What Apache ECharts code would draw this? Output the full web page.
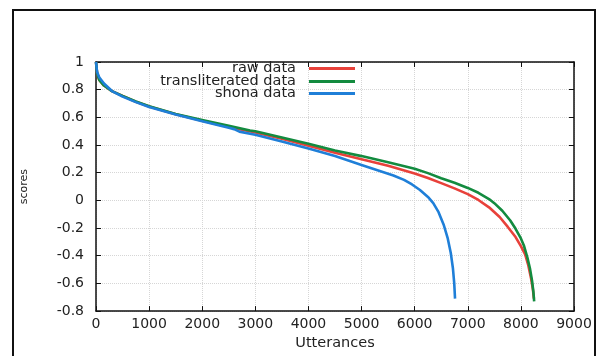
<!DOCTYPE html>
<html>
<head>
<meta charset="utf-8">
<script src="https://cdn.jsdelivr.net/npm/echarts@6/dist/echarts.min.js"></script>
<style>html,body{margin:0;padding:0;background:#fff}#c{width:606px;height:356px}</style>
</head>
<body>
<div id="c"></div>
<script>
var seriesNames = ['raw data', 'transliterated data', 'shona data'];
var rawX = [0, 20, 60, 150, 300, 500, 750, 1000, 1500, 2000, 2500, 3000, 3500, 4000, 4500, 5000, 5500, 6000, 6250, 6500, 6750, 7000, 7200, 7400, 7600, 7750, 7900, 8000, 8080, 8140, 8190, 8225, 8245];
var rawY = [1.0, 0.92, 0.87, 0.83, 0.79, 0.755, 0.713, 0.678, 0.623, 0.575, 0.53, 0.49, 0.445, 0.395, 0.345, 0.297, 0.25, 0.195, 0.162, 0.125, 0.087, 0.045, 0.003, -0.05, -0.12, -0.19, -0.265, -0.33, -0.39, -0.47, -0.56, -0.64, -0.71];
var transX = [0, 20, 60, 150, 300, 500, 750, 1000, 1500, 2000, 2500, 2900, 3000, 3500, 4000, 4500, 5000, 5500, 6000, 6250, 6500, 6750, 7000, 7200, 7400, 7500, 7650, 7800, 7900, 8000, 8060, 8120, 8170, 8210, 8235, 8250];
var transY = [1.0, 0.92, 0.87, 0.83, 0.79, 0.755, 0.715, 0.68, 0.625, 0.58, 0.54, 0.505, 0.50, 0.455, 0.41, 0.36, 0.32, 0.275, 0.228, 0.197, 0.16, 0.127, 0.09, 0.055, 0.01, -0.02, -0.075, -0.145, -0.205, -0.275, -0.33, -0.41, -0.49, -0.58, -0.66, -0.73];
var shonaX = [0, 20, 60, 150, 300, 500, 750, 1000, 1500, 2000, 2500, 2600, 2700, 3000, 3500, 4000, 4500, 5000, 5200, 5400, 5600, 5800, 5950, 6100, 6250, 6350, 6450, 6550, 6620, 6680, 6720, 6745, 6760];
var shonaY = [1.0, 0.93, 0.89, 0.845, 0.79, 0.75, 0.71, 0.675, 0.62, 0.572, 0.525, 0.515, 0.497, 0.475, 0.425, 0.375, 0.32, 0.255, 0.23, 0.205, 0.18, 0.148, 0.115, 0.075, 0.025, -0.02, -0.085, -0.18, -0.27, -0.38, -0.49, -0.6, -0.71];
var xTicks = {min: 0, max: 9000, step: 1000};
var yTicks = {min: -0.8, max: 1, step: 0.2};

function pairs(xs, ys) { return xs.map(function (x, i) { return [x, ys[i]]; }); }
var colors = ['#e8413a', '#138b3f', '#1f7fd8'];
var font = 'DejaVu Sans';
var chart = echarts.init(document.getElementById('c'));

function legendFor(i, top) {
  return {
    data: [seriesNames[i]], right: 251, top: top, orient: 'vertical', align: 'right', padding: 0,
    icon: 'rect', itemWidth: 46, itemHeight: 3,
    textStyle: {fontFamily: font, fontSize: 14.5, color: '#222', padding: [0, 8, 0, 0]},
    selectedMode: false
  };
}
var tickStyle = {show: true, inside: true, length: 5, lineStyle: {color: '#111', width: 1}};
var axisLine = {show: true, onZero: false, lineStyle: {color: '#111', width: 1.5}};
var split = {show: true, lineStyle: {color: '#d6d6d6', type: 'dotted', width: 1}};
function lineSeries(i, xs, ys) {
  return {name: seriesNames[i], type: 'line', data: pairs(xs, ys), showSymbol: false, symbol: 'none',
    smooth: false,
    lineStyle: {color: colors[i], width: 2.6, join: 'round'}, itemStyle: {color: colors[i]}};
}

chart.setOption({
  animation: false,
  backgroundColor: '#fff',
  legend: [legendFor(0, 61), legendFor(1, 74), legendFor(2, 86)],
  grid: {left: 96, right: 32, top: 62, bottom: 43, containLabel: false},
  xAxis: [{
    type: 'value', min: xTicks.min, max: xTicks.max, interval: xTicks.step,
    name: 'Utterances', nameLocation: 'middle', nameGap: 22,
    nameTextStyle: {fontFamily: font, fontSize: 14.5, color: '#222'},
    axisLine: axisLine, axisTick: tickStyle, splitLine: split,
    axisLabel: {fontFamily: font, fontSize: 14, color: '#222', margin: 6,
      formatter: function (v) { return String(v); }}
  }, {
    type: 'value', position: 'top', min: xTicks.min, max: xTicks.max, interval: xTicks.step,
    axisLine: axisLine, axisTick: tickStyle, splitLine: {show: false}, axisLabel: {show: false}
  }],
  yAxis: [{
    type: 'value', min: yTicks.min, max: yTicks.max, interval: yTicks.step,
    name: 'scores', nameLocation: 'middle', nameGap: 66, nameRotate: 90,
    nameTextStyle: {fontFamily: font, fontSize: 11, color: '#222'},
    axisLine: axisLine, axisTick: tickStyle, splitLine: split,
    axisLabel: {fontFamily: font, fontSize: 14, color: '#222', margin: 12,
      formatter: function (v) { return String(Math.round(v * 10) / 10); }}
  }, {
    type: 'value', position: 'right', min: yTicks.min, max: yTicks.max, interval: yTicks.step,
    axisLine: axisLine, axisTick: tickStyle, splitLine: {show: false}, axisLabel: {show: false}
  }],
  graphic: [{
    type: 'rect', shape: {x: 13, y: 10, width: 582, height: 360},
    style: {fill: 'none', stroke: '#111', lineWidth: 2}, silent: true
  }],
  series: [
    lineSeries(0, rawX, rawY),
    lineSeries(1, transX, transY),
    lineSeries(2, shonaX, shonaY)
  ]
});
</script>
</body>
</html>
